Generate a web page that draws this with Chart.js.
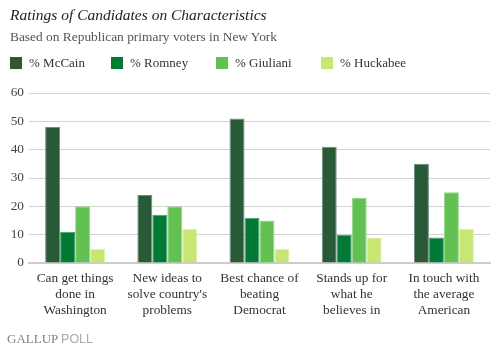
<!DOCTYPE html>
<html><head><meta charset="utf-8">
<script src="https://cdn.jsdelivr.net/npm/chart.js@4.4.1/dist/chart.umd.min.js"></script>
<style>
html,body{margin:0;padding:0;background:#fff;}
#wrap{position:relative;width:497px;height:349px;overflow:hidden;}
#c{position:absolute;left:0;top:0;}
.t{position:absolute;white-space:nowrap;font-family:"Liberation Serif",serif;line-height:1;}
#title{left:10px;top:7px;font-size:15.5px;font-style:italic;color:#222;}
#sub{left:10px;top:30px;font-size:13.4px;color:#555;}
.lg{position:absolute;top:57px;width:12px;height:12px;}
.lt{position:absolute;top:56px;font-size:13px;line-height:1;color:#333;font-family:"Liberation Serif",serif;white-space:nowrap;}
#foot{left:7px;top:332px;font-size:13px;color:#808080;}
#foot span{font-family:"Liberation Sans",sans-serif;color:#aaa;font-size:12.5px;}
</style></head>
<body><div id="wrap">
<canvas id="c" width="497" height="349"></canvas>
<div class="t" id="title">Ratings of Candidates on Characteristics</div>
<div class="t" id="sub">Based on Republican primary voters in New York</div>
<div id="legend"></div>
<div class="t" id="foot">GALLUP <span>POLL</span></div>
</div>
<script>
const categories = [
  ["Can get things","done in","Washington"],
  ["New ideas to","solve country's","problems"],
  ["Best chance of","beating","Democrat"],
  ["Stands up for","what he","believes in"],
  ["In touch with","the average","American"]
];
const seriesNames = ["% McCain","% Romney","% Giuliani","% Huckabee"];
const mccain   = [48, 24, 51, 41, 35];
const romney   = [11, 17, 16, 10, 9];
const giuliani = [20, 20, 15, 23, 25];
const huckabee = [5, 12, 5, 9, 12];
const yTicks = [0, 10, 20, 30, 40, 50, 60];

const colors  = ["#285a37","#007a34","#62c152","#c8e772"];
const borders = ["#6f8f78","#4a9d6a","#93d486","#ddf1a8"];
const legendX = [10, 111, 216, 321];

const lg = document.getElementById('legend');
seriesNames.forEach((n,i)=>{
  const b=document.createElement('div');b.className='lg';b.style.left=legendX[i]+'px';b.style.background=colors[i];lg.appendChild(b);
  const t=document.createElement('div');t.className='lt';t.style.left=(legendX[i]+19)+'px';t.textContent=n;lg.appendChild(t);
});

const serif = "'Liberation Serif', serif";
new Chart(document.getElementById('c'), {
  type: 'bar',
  data: {
    labels: categories,
    datasets: [mccain, romney, giuliani, huckabee].map((d,i)=>({
      label: seriesNames[i], data: d,
      backgroundColor: colors[i], borderColor: borders[i], borderWidth: 1,
      categoryPercentage: 0.65, barPercentage: 1.0
    }))
  },
  options: {
    responsive: false, animation: false,
    layout: { padding: { top: 93, left: 0, right: 7, bottom: 0 } },
    plugins: { legend: { display: false }, tooltip: { enabled: false } },
    scales: {
      x: {
        grid: { display: false, drawTicks: false },
        border: { display: true, color: '#cccccc', width: 2 },
        ticks: { color: '#333', font: { family: serif, size: 13.3, lineHeight: 1.2 }, padding: 8, maxRotation: 0, autoSkip: false },
        afterFit: s => { s.height = 86; }
      },
      y: {
        min: 0, max: 60,
        afterBuildTicks: s => { s.ticks = yTicks.map(v=>({value:v})); },
        grid: { color: '#d2d2d2', lineWidth: 1, drawTicks: false },
        border: { display: false },
        ticks: { color: '#444', font: { family: serif, size: 13.3 }, padding: 5 },
        afterFit: s => { s.width = 29; }
      }
    }
  }
});
</script>
</body></html>
